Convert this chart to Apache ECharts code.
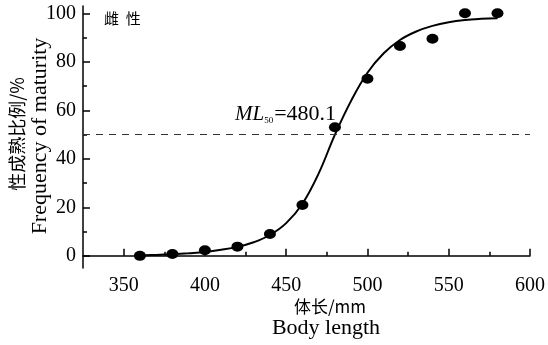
<!DOCTYPE html>
<html>
<head>
<meta charset="utf-8">
<script src="https://cdn.jsdelivr.net/npm/echarts@6/dist/echarts.min.js"></script>
<style>html,body{margin:0;padding:0;background:#fff;}#c{width:548px;height:345px;}</style>
</head>
<body>
<div id="c"></div>
<script>
// observed points: body length (mm) and frequency of maturity (%)
var obsLength = [360, 380, 400, 420, 440, 460, 480, 500, 520, 540, 560, 580];
var obsFreq = [0, 0.8, 2.3, 3.8, 9, 21, 53, 73, 86.5, 89.5, 100, 100];
// fitted logistic curve
var fitLength = [360, 370, 380, 390, 400, 410, 420, 430, 440, 450, 460, 470, 480, 490, 500, 510, 520, 530, 540, 550, 560, 570, 580];
var fitFreq = [0.2, 0.4, 0.7, 1.1, 1.6, 2.5, 3.7, 5.6, 8.6, 13.5, 21.5, 34, 50, 64, 75.5, 83.5, 89, 92.5, 94.8, 96.3, 97.2, 97.7, 98];
var ml50 = 50;
var xTickLabels = [350, 400, 450, 500, 550, 600];
var xMinorTicks = [375, 425, 475, 525, 575];
var yTickLabels = [0, 20, 40, 60, 80, 100];
var yMinorTicks = [10, 30, 50, 70, 90];

var chart = echarts.init(document.getElementById('c'), null, {renderer: 'canvas'});
var serif = 'Liberation Serif';
function pairs(a, b) { return a.map(function (v, i) { return [v, b[i]]; }); }

chart.setOption({
  animation: false,
  backgroundColor: '#fff',
  grid: {left: 83, right: 15, top: 6, bottom: 77},
  xAxis: [{
    type: 'value', min: 325, max: 600,
    axisLine: {show: true, lineStyle: {color: '#000', width: 1.5}},
    axisTick: {show: true, inside: true, length: 7, customValues: xTickLabels, lineStyle: {color: '#000', width: 1.5}},
    axisLabel: {customValues: xTickLabels, color: '#000', fontFamily: serif, fontSize: 20, margin: 8},
    splitLine: {show: false}
  }, {
    type: 'value', min: 325, max: 600, position: 'bottom',
    axisLine: {show: false},
    axisTick: {show: true, inside: true, length: 4, customValues: xMinorTicks, lineStyle: {color: '#000', width: 1.5}},
    axisLabel: {show: false},
    splitLine: {show: false}
  }],
  yAxis: [{
    type: 'value', min: -5, max: 103,
    axisLine: {show: true, lineStyle: {color: '#000', width: 1.5}},
    axisTick: {show: true, inside: true, length: 7, customValues: yTickLabels, lineStyle: {color: '#000', width: 1.5}},
    axisLabel: {customValues: yTickLabels, color: '#000', fontFamily: serif, fontSize: 20, margin: 7},
    splitLine: {show: false}
  }, {
    type: 'value', min: -5, max: 103, position: 'left',
    axisLine: {show: false},
    axisTick: {show: true, inside: true, length: 4, customValues: yMinorTicks, lineStyle: {color: '#000', width: 1.5}},
    axisLabel: {show: false},
    splitLine: {show: false}
  }],
  series: [{
    type: 'line', smooth: 0.4, showSymbol: false, symbol: 'none',
    data: pairs(fitLength, fitFreq),
    lineStyle: {color: '#000', width: 2},
    z: 3
  }, {
    type: 'scatter', symbol: 'circle', symbolSize: [12, 10],
    data: pairs(obsLength, obsFreq),
    itemStyle: {color: '#000', opacity: 1},
    z: 4,
    markLine: {
      silent: true, symbol: 'none',
      label: {show: false},
      lineStyle: {color: '#333', width: 1.2, type: [7, 6]},
      data: [{yAxis: ml50}]
    }
  }],
  graphic: [
    {type: 'text', left: 104, top: 11, style: {text: '雌  性', font: '15px "Noto Sans CJK SC"', fill: '#000'}},
    {type: 'text', left: 235, top: 103, style: {
      text: '{i|ML}{s|50}{n|=480.1}', fill: '#000',
      rich: {
        i: {fontFamily: serif, fontStyle: 'italic', fontSize: 21, verticalAlign: 'bottom'},
        s: {fontFamily: serif, fontSize: 9, verticalAlign: 'bottom', padding: [0, 1, 0, 0]},
        n: {fontFamily: serif, fontSize: 22, verticalAlign: 'bottom'}
      }
    }},
    {type: 'text', x: 17, y: 134, rotation: Math.PI / 2, style: {text: '性成熟比例/%', font: '18px "Noto Sans CJK SC"', fill: '#000', align: 'center', verticalAlign: 'middle'}},
    {type: 'text', x: 40, y: 136, rotation: Math.PI / 2, style: {text: 'Frequency of maturity', font: '22px "Liberation Serif"', fill: '#000', align: 'center', verticalAlign: 'middle'}},
    {type: 'text', x: 330, y: 307, style: {text: '体长/mm', font: '17px "Noto Sans CJK SC"', fill: '#000', align: 'center', verticalAlign: 'middle'}},
    {type: 'text', x: 326, y: 328, style: {text: 'Body length', font: '22px "Liberation Serif"', fill: '#000', align: 'center', verticalAlign: 'middle'}}
  ]
});
</script>
</body>
</html>
